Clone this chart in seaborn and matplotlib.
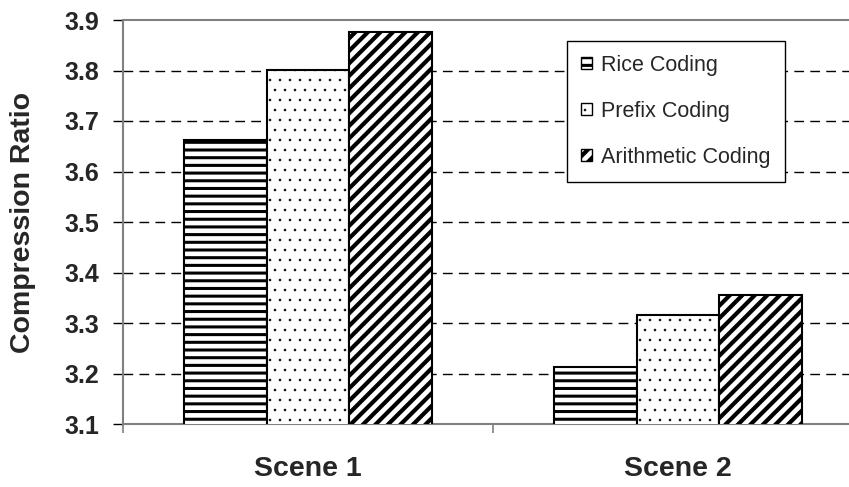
import numpy as np
import pandas as pd
import matplotlib
matplotlib.use("Agg")
import matplotlib.pyplot as plt
import seaborn as sns
from matplotlib.patches import Patch
from matplotlib.backend_bases import GraphicsContextBase

# ---- data ----
scenes = ["Scene 1", "Scene 2"]
methods = ["Rice Coding", "Prefix Coding", "Arithmetic Coding"]
rice = [3.663, 3.213]
prefix = [3.801, 3.315]
arith = [3.877, 3.355]
yticks = [3.1, 3.2, 3.3, 3.4, 3.5, 3.6, 3.7, 3.8, 3.9]

# ---- hatch styling (per pattern density / line width) ----
HATCHES = ["-", ".", "/"]
HATCH_DENSITY = {"-": 13, ".": 10, "/": 16}
HATCH_LW = {"-": 2.2, ".": 0.4, "/": 3.0}
_orig_hp = GraphicsContextBase.get_hatch_path
_orig_hlw = getattr(GraphicsContextBase, "get_hatch_linewidth", None)


def _hp(self, density=6.0):
    h = self.get_hatch()
    if h in HATCH_DENSITY:
        density = HATCH_DENSITY[h]
    return _orig_hp(self, density)


def _hlw(self):
    h = self.get_hatch()
    if h in HATCH_LW:
        return HATCH_LW[h]
    return _orig_hlw(self)


GraphicsContextBase.get_hatch_path = _hp
if _orig_hlw is not None:
    GraphicsContextBase.get_hatch_linewidth = _hlw

sns.set_theme(style="white")
plt.rcParams["font.family"] = ["Liberation Sans", "DejaVu Sans"]

rows = []
for m, vals in zip(methods, [rice, prefix, arith]):
    for s, v in zip(scenes, vals):
        rows.append({"Scene": s, "Method": m, "Ratio": v})
df = pd.DataFrame(rows)

fig = plt.figure(figsize=(8.49, 4.87), dpi=100)
ax = fig.add_axes([123 / 849, 1 - 424 / 487, 740 / 849, 404 / 487])

sns.barplot(data=df, x="Scene", y="Ratio", hue="Method", order=scenes,
            hue_order=methods, palette=["white"] * 3, width=0.67,
            edgecolor="black", linewidth=1.5, legend=False, ax=ax, zorder=3)

for cont, h in zip(ax.containers, HATCHES):
    for bar in cont:
        bar.set_hatch(h)
        bar.set_edgecolor("black")
        if hasattr(bar, "set_hatch_linewidth"):
            bar.set_hatch_linewidth(HATCH_LW[h])

ax.set_ylim(yticks[0], yticks[-1])
ax.set_xlim(-0.5, 1.5)
ax.set_yticks(yticks)
ax.set_yticklabels([f"{t:.1f}" for t in yticks])
for t in yticks[1:-1]:
    ax.axhline(t, color="black", lw=1.0, ls=(0, (7, 4.5)), zorder=1)

ax.set_xticks([0, 1])
ax.set_xticklabels(scenes)
ax.set_xticks([-0.5, 0.5, 1.5], minor=True)
ax.tick_params(axis="x", which="major", length=0, pad=23, labelsize=20.5)
ax.tick_params(axis="x", which="minor", length=6.5, width=1.2, color="#808080",
               direction="out", bottom=True)
ax.tick_params(axis="y", length=7, width=1.0, color="black", direction="out",
               left=True, pad=10, labelsize=18)
for lbl in ax.get_xticklabels() + ax.get_yticklabels():
    lbl.set_fontweight("bold")

ax.set_xlabel("")
ax.set_ylabel("Compression Ratio", fontsize=20.5, fontweight="bold")
ax.yaxis.set_label_coords(-0.117, 0.5)

for side in ["left", "bottom", "top", "right"]:
    ax.spines[side].set_color("#808080")
    ax.spines[side].set_linewidth(1.5)

handles = [Patch(facecolor="white", edgecolor="black", hatch=h, lw=1.0,
                 label=m) for h, m in zip(HATCHES, methods)]
leg = ax.legend(handles=handles, loc="upper left", bbox_to_anchor=(0.6, 0.948),
                borderaxespad=0, fontsize=15.5, frameon=True, fancybox=False,
                edgecolor="black", framealpha=1, handlelength=0.5,
                handleheight=0.5, handletextpad=0.45, labelspacing=1.16,
                borderpad=0.65)
leg.get_frame().set_linewidth(1.0)

fig.savefig("out.png", dpi=100)
